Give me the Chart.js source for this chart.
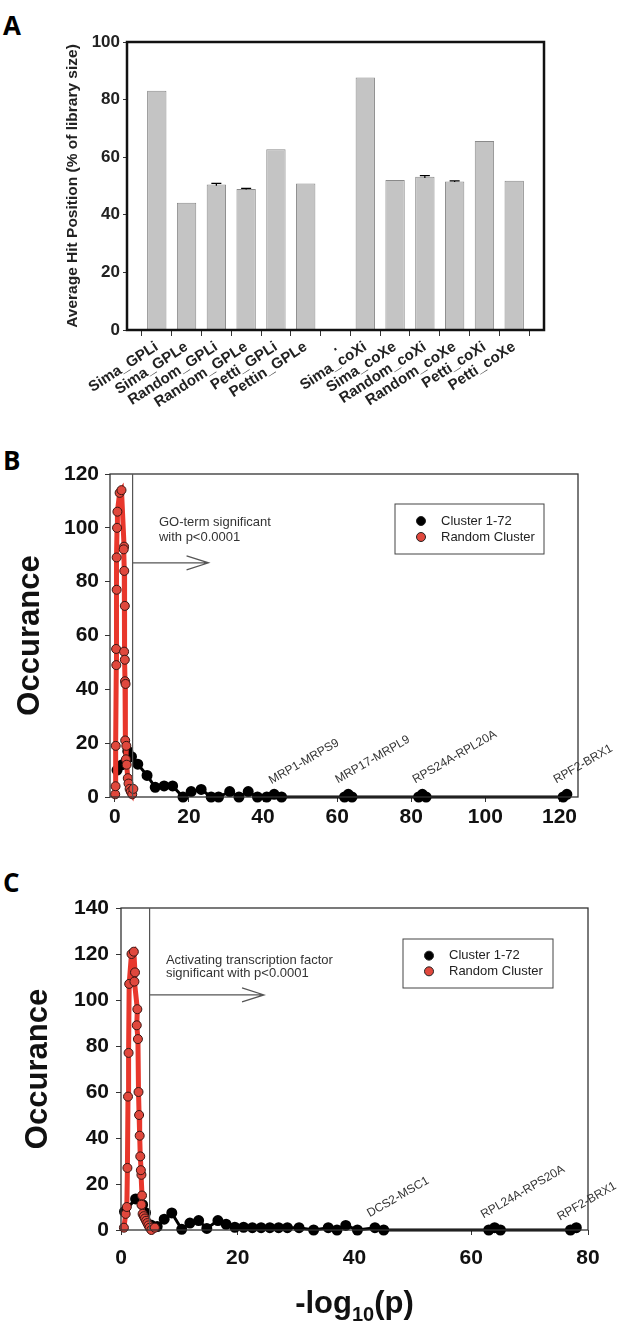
<!DOCTYPE html>
<html>
<head>
<meta charset="utf-8">
<script src="https://cdn.jsdelivr.net/npm/chart.js@4.4.1/dist/chart.umd.min.js"></script>
<style>
  body { margin: 0; background: #fff; width: 622px; height: 1329px; position: relative; overflow: hidden; }
  canvas { position: absolute; left: 0; }
  .tag { position: absolute; left: 3px; font: bold 26px "Open Sans", Arial, sans-serif; line-height: 1; }
</style>
</head>
<body>
<div class="tag" style="top:12px">A</div>
<div class="tag" style="top:447px">B</div>
<div class="tag" style="top:869px">C</div>
<canvas id="chartA" width="622" height="450" style="top:0"></canvas>
<canvas id="chartB" width="622" height="430" style="top:440px"></canvas>
<canvas id="chartC" width="622" height="449" style="top:880px"></canvas>
<script>
// ---- panel A: average hit position ----
const barLabels = ['Sima_GPLi', 'Sima_GPLe', 'Random_GPLi', 'Random_GPLe', 'Petti_GPLi', 'Pettin_GPLe', '.',
  'Sima_coXi', 'Sima_coXe', 'Random_coXi', 'Random_coXe', 'Petti_coXi', 'Petti_coXe'];
const hitPosition = [83.1, 44.2, 50.5, 49.0, 62.8, 50.9, null, 87.7, 52.1, 53.2, 51.6, 65.6, 51.8];
const hitError = [0, 0, 0.4, 0.2, 0, 0, 0, 0, 0, 0.4, 0.2, 0, 0];
const yTicksA = [0, 20, 40, 60, 80, 100];

// ---- panel B: GO-term ----
const clusterBx = [0.6, 2, 3.5, 4.5, 6.2, 8.7, 10.9, 13.3, 15.6, 18.4, 20.6, 23.3, 26, 28, 31, 33.5, 36, 38.5, 41, 43, 45, 62, 63, 64, 82, 83, 84, 121, 122];
const clusterBy = [10, 12, 17, 15, 12.2, 8, 3.6, 4.1, 4.1, 0, 2, 2.8, 0, 0, 2, 0, 2, 0, 0, 1, 0, 0, 1, 0, 0, 1, 0, 0, 1];
const randomBx = [0.1, 0.2, 0.25, 0.4, 0.35, 0.5, 0.5, 0.6, 0.7, 1.3, 1.8, 2.5, 2.4, 2.55, 2.7, 2.5, 2.7, 2.75, 2.9, 2.8, 3.1, 3.0, 3.2, 3.5, 3.7, 4.0, 4.3, 4.7, 5.0];
const randomBy = [1, 4, 19, 49, 55, 77, 89, 100, 106, 113, 114, 93, 92, 84, 71, 54, 51, 43, 42, 21, 19, 14, 12, 7, 5, 3, 2, 1, 3];
const xTicksB = [0, 20, 40, 60, 80, 100, 120];
const yTicksB = [0, 20, 40, 60, 80, 100, 120];
const cutoffB = 4.8;
const noteB = ['GO-term significant', 'with p<0.0001'];
const pairTagsB = ['MRP1-MRPS9', 'MRP17-MRPL9', 'RPS24A-RPL20A', 'RPF2-BRX1'];
const pairXB = [42.3, 60.2, 81.1, 119.1];
const pairYB = [4.7, 5, 5, 5];

// ---- panel C: transcription factor ----
const clusterCx = [0.6, 2.5, 3.7, 4.2, 5.1, 6.2, 7.4, 8.7, 10.4, 11.8, 13.3, 14.7, 16.6, 18, 19.5, 21, 22.5, 24, 25.5, 27, 28.5, 30.5, 33, 35.5, 37, 38.5, 40.5, 43.5, 45, 63, 64, 65, 77, 78];
const clusterCy = [8, 13.5, 11, 7.5, 2.2, 1.5, 4.7, 7.4, 0.3, 3, 4.1, 0.7, 4.1, 2.5, 1.2, 1.2, 1, 1, 1, 1, 1, 1, 0, 1, 0, 2, 0, 1, 0, 0, 1, 0, 0, 1];
const randomCx = [0.5, 0.8, 1.0, 1.1, 1.2, 1.3, 1.4, 1.8, 2.2, 2.4, 2.3, 2.8, 2.7, 2.9, 3.0, 3.1, 3.2, 3.3, 3.5, 3.4, 3.6, 3.5, 3.7, 3.9, 4.1, 4.3, 4.5, 4.7, 4.9, 5.2, 5.8];
const randomCy = [1, 7, 10, 27, 58, 77, 107, 120, 121, 112, 108, 96, 89, 83, 60, 50, 41, 32, 24, 26, 15, 11, 7, 6, 5, 4, 3, 2, 1, 0, 1];
const xTicksC = [0, 20, 40, 60, 80];
const yTicksC = [0, 20, 40, 60, 80, 100, 120, 140];
const cutoffC = 4.9;
const noteC = ['Activating transcription factor', 'significant with p<0.0001'];
const pairTagsC = ['DCS2-MSC1', 'RPL24A-RPS20A', 'RPF2-BRX1'];
const pairXC = [42.6, 62.1, 75.2];
const pairYC = [5.5, 5, 4];

const seriesNames = ['Cluster 1-72', 'Random Cluster'];

Chart.defaults.font.family = 'Arial, "Liberation Sans", sans-serif';
Chart.defaults.color = '#000';

const toPoints = (xs, ys) => xs.map((x, i) => ({ x: x, y: ys[i] }));
const setTicks = list => s => { s.ticks = list.map(v => ({ value: v })); };

// frame round the plot area
const frame = {
  id: 'frame',
  afterDraw(chart, args, o) {
    const { ctx, chartArea: a } = chart;
    ctx.save();
    ctx.strokeStyle = o.color;
    ctx.lineWidth = o.width;
    ctx.strokeRect(a.left, a.top, a.right - a.left, a.bottom - a.top);
    ctx.restore();
  }
};

// error bars for panel A
const errBars = {
  id: 'errBars',
  afterDatasetsDraw(chart) {
    const { ctx } = chart;
    const xs = chart.scales.x, ys = chart.scales.y;
    ctx.save();
    ctx.strokeStyle = '#000';
    ctx.lineWidth = 1.2;
    hitError.forEach((e, i) => {
      if (!e || hitPosition[i] == null) return;
      const x = xs.getPixelForValue(i + 1);
      const t = ys.getPixelForValue(hitPosition[i] + e);
      const b = ys.getPixelForValue(hitPosition[i] - e);
      ctx.beginPath();
      ctx.moveTo(x, t); ctx.lineTo(x, b);
      ctx.moveTo(x - 5, t); ctx.lineTo(x + 5, t);
      ctx.stroke();
    });
    ctx.restore();
  }
};

new Chart(document.getElementById('chartA'), {
  type: 'bar',
  data: {
    labels: ['', ...barLabels, ''],
    datasets: [{
      data: [null, ...hitPosition, null],
      backgroundColor: '#c4c4c4',
      borderColor: '#8a8a8a',
      borderWidth: 1,
      barPercentage: 0.65,
      categoryPercentage: 1
    }]
  },
  options: {
    responsive: false,
    animation: false,
    layout: { padding: { top: 42, right: 78, left: 0, bottom: 0 } },
    plugins: {
      legend: { display: false },
      tooltip: { enabled: false },
      frame: { color: '#111', width: 2.5 }
    },
    scales: {
      x: {
        offset: false,
        grid: { drawOnChartArea: false, tickLength: 6, color: '#333' },
        border: { display: false },
        ticks: { autoSkip: false, minRotation: 33, maxRotation: 33, padding: 2, color: '#222', font: { size: 15, weight: 'bold' } },
        afterFit: s => { s.height = 120; }
      },
      y: {
        min: 0, max: 100,
        afterBuildTicks: setTicks(yTicksA),
        grid: { drawOnChartArea: false, tickLength: 4, color: '#333' },
        border: { display: false },
        ticks: { padding: 3, color: '#222', font: { size: 17, weight: 'bold' } },
        title: { display: true, text: 'Average Hit Position (% of library size)', color: '#222', font: { size: 15.5, weight: 'bold' }, padding: { top: 63, bottom: 0 } },
        afterFit: s => { s.width = 127; }
      }
    }
  },
  plugins: [frame, errBars]
});

// cutoff line, arrow, note, pair tags, legend, x title
const notes = {
  id: 'notes',
  afterDraw(chart, args, o) {
    const { ctx, chartArea: a } = chart;
    const xs = chart.scales.x, ys = chart.scales.y;
    ctx.save();
    // cutoff + arrow
    ctx.strokeStyle = '#555';
    ctx.lineWidth = 1.2;
    const cx = xs.getPixelForValue(o.cutoff);
    ctx.beginPath();
    ctx.moveTo(cx, a.top); ctx.lineTo(cx, a.bottom);
    const ay = ys.getPixelForValue(o.arrowY);
    const ax = xs.getPixelForValue(o.arrowEnd);
    ctx.moveTo(cx, ay); ctx.lineTo(ax, ay);
    ctx.moveTo(ax - 22, ay - 7); ctx.lineTo(ax, ay); ctx.lineTo(ax - 22, ay + 7);
    ctx.stroke();
    // note text
    ctx.fillStyle = '#333';
    ctx.font = '13px Arial, "Liberation Sans", sans-serif';
    ctx.textBaseline = 'middle';
    ctx.textAlign = 'left';
    o.note.forEach((t, i) => ctx.fillText(t, xs.getPixelForValue(o.noteX), ys.getPixelForValue(o.noteY[i])));
    // pair tags
    ctx.font = '12px Arial, "Liberation Sans", sans-serif';
    ctx.textBaseline = 'alphabetic';
    o.tags.forEach((t, i) => {
      ctx.save();
      ctx.translate(xs.getPixelForValue(o.tagX[i]), ys.getPixelForValue(o.tagY[i]));
      ctx.rotate(-30 * Math.PI / 180);
      ctx.fillText(t, 0, 0);
      ctx.restore();
    });
    // legend box
    const L = a.right - o.legend[0] - o.legend[2], T = a.top + o.legend[1];
    ctx.strokeStyle = '#444';
    ctx.lineWidth = 1;
    ctx.strokeRect(L, T, o.legend[2], o.legend[3]);
    const rows = [T + o.legend[3] * 0.34, T + o.legend[3] * 0.66];
    const fills = ['#000', '#e0483d'];
    ctx.font = '13px Arial, "Liberation Sans", sans-serif';
    ctx.textBaseline = 'middle';
    rows.forEach((ry, i) => {
      ctx.beginPath();
      ctx.arc(L + 26, ry, 4.5, 0, Math.PI * 2);
      ctx.fillStyle = fills[i];
      ctx.fill();
      ctx.strokeStyle = '#222';
      ctx.stroke();
      ctx.fillStyle = '#222';
      ctx.fillText(seriesNames[i], L + 46, ry);
    });
    // x title with subscript
    if (o.xTitle) {
      const mx = (a.left + a.right) / 2, my = a.bottom + 74;
      const big = 'bold 31px Arial, "Liberation Sans", sans-serif';
      const small = 'bold 20px Arial, "Liberation Sans", sans-serif';
      ctx.font = big; const w1 = ctx.measureText('-log').width, w3 = ctx.measureText('(p)').width;
      ctx.font = small; const w2 = ctx.measureText('10').width;
      let x0 = mx - (w1 + w2 + w3) / 2;
      ctx.fillStyle = '#111';
      ctx.textBaseline = 'middle';
      ctx.font = big; ctx.fillText('-log', x0, my);
      ctx.font = small; ctx.fillText('10', x0 + w1, my + 11);
      ctx.font = big; ctx.fillText('(p)', x0 + w1 + w2, my);
    }
    ctx.restore();
  }
};

function occurrenceChart(id, cfg) {
  return new Chart(document.getElementById(id), {
    type: 'scatter',
    data: {
      datasets: [{
        label: seriesNames[1],
        data: toPoints(cfg.rx, cfg.ry),
        showLine: true,
        borderColor: '#e8372c',
        borderWidth: 5,
        pointRadius: 4.5,
        pointBackgroundColor: '#e0483d',
        pointBorderColor: '#3a1512',
        pointBorderWidth: 1,
        clip: false,
        order: 0
      }, {
        label: seriesNames[0],
        data: toPoints(cfg.bx, cfg.by),
        showLine: true,
        borderColor: '#000',
        borderWidth: 3,
        pointRadius: 4,
        pointBackgroundColor: '#000',
        pointBorderColor: '#000',
        clip: false,
        order: 1
      }]
    },
    options: {
      responsive: false,
      animation: false,
      layout: { padding: { top: cfg.top, right: cfg.right, left: 0, bottom: 0 } },
      plugins: {
        legend: { display: false },
        tooltip: { enabled: false },
        frame: { color: '#333', width: 1.3 },
        notes: cfg.notes
      },
      scales: {
        x: {
          type: 'linear', min: cfg.xMin, max: cfg.xMax,
          afterBuildTicks: setTicks(cfg.xTicks),
          grid: { drawOnChartArea: false, tickLength: 5, color: '#333' },
          border: { display: false },
          ticks: { padding: cfg.xPad, color: '#111', font: { size: 21, weight: 'bold' } },
          afterFit: s => { s.height = cfg.xHeight; }
        },
        y: {
          min: 0, max: cfg.yMax,
          afterBuildTicks: setTicks(cfg.yTicks),
          grid: { drawOnChartArea: false, tickLength: 5, color: '#333' },
          border: { display: false },
          ticks: { padding: cfg.yPad, color: '#111', font: { size: 21, weight: 'bold' } },
          title: { display: true, text: 'Occurance', color: '#111', font: { size: 31, weight: 'bold' }, padding: { top: cfg.titlePad, bottom: 0 } },
          afterFit: s => { s.width = cfg.yWidth; }
        }
      }
    },
    plugins: [frame, notes]
  });
}

occurrenceChart('chartB', {
  rx: randomBx, ry: randomBy, bx: clusterBx, by: clusterBy,
  top: 34, right: 44, xMin: -1.3, xMax: 125, yMax: 120,
  xTicks: xTicksB, yTicks: yTicksB, xHeight: 73, yWidth: 110, xPad: 3, yPad: 6, titlePad: 12,
  notes: { cutoff: cutoffB, arrowY: 87, arrowEnd: 25.3, note: noteB, noteX: 11.9, noteY: [102, 96.5],
    tags: pairTagsB, tagX: pairXB, tagY: pairYB, legend: [34, 30, 149, 50], xTitle: false }
});

occurrenceChart('chartC', {
  rx: randomCx, ry: randomCy, bx: clusterCx, by: clusterCy,
  top: 28, right: 34, xMin: 0, xMax: 80, yMax: 140,
  xTicks: xTicksC, yTicks: yTicksC, xHeight: 99, yWidth: 121, xPad: 11, yPad: 7, titlePad: 20,
  notes: { cutoff: cutoffC, arrowY: 102.2, arrowEnd: 24.5, note: noteC, noteX: 7.7, noteY: [117.4, 111.7],
    tags: pairTagsC, tagX: pairXC, tagY: pairYC, legend: [35, 31, 150, 49], xTitle: true }
});
</script>
</body>
</html>
